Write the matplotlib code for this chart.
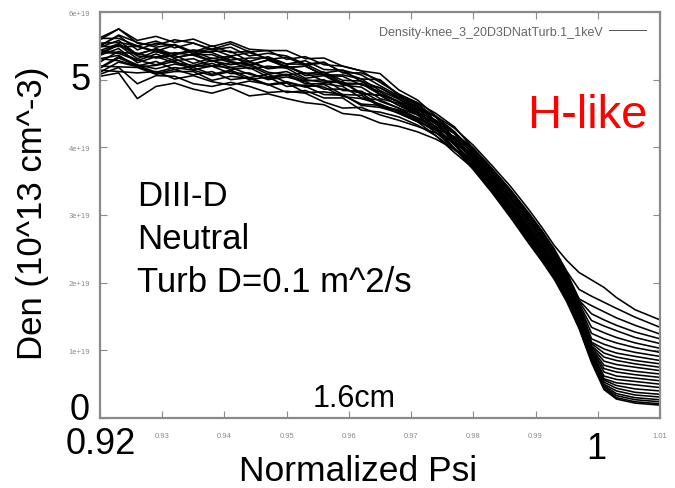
import matplotlib
matplotlib.use('Agg')
import matplotlib.pyplot as plt

plt.rcParams['font.family'] = ['Liberation Sans', 'DejaVu Sans']

# normalized psi grid: coarse part inside the pedestal, finer part across the separatrix
psi_core = [0.920, 0.923, 0.926, 0.929, 0.932, 0.935, 0.938, 0.941, 0.944, 0.947,
            0.950, 0.953, 0.956, 0.959, 0.962, 0.965, 0.968, 0.971, 0.974, 0.977,
            0.980, 0.983, 0.986]
psi_edge = [0.989, 0.991, 0.993, 0.995, 0.997, 0.999, 1.001, 1.003, 1.006, 1.010]

# density in units of 1e19 m^-3, one row per time slice
den_core = [
    [5.48, 5.58, 5.37, 5.46, 5.37, 5.42, 5.31, 5.35, 5.22, 5.29, 5.18, 5.20, 5.06, 5.05, 4.92, 4.88, 4.72, 4.55, 4.46, 4.28, 4.03, 3.73, 3.42],
    [5.26, 5.42, 5.29, 5.22, 5.31, 5.19, 5.24, 5.15, 5.18, 5.04, 5.08, 4.98, 5.00, 4.84, 4.83, 4.68, 4.58, 4.48, 4.37, 4.20, 3.99, 3.69, 3.37],
    [5.62, 5.75, 5.54, 5.51, 5.59, 5.54, 5.45, 5.53, 5.41, 5.43, 5.30, 5.34, 5.22, 5.20, 5.13, 4.96, 4.79, 4.66, 4.50, 4.30, 3.98, 3.68, 3.36],
    [5.20, 5.19, 5.18, 5.08, 5.12, 5.12, 4.99, 5.05, 5.02, 4.92, 4.95, 4.81, 4.82, 4.78, 4.62, 4.59, 4.51, 4.38, 4.27, 4.16, 3.97, 3.67, 3.35],
    [5.38, 5.51, 5.31, 5.42, 5.32, 5.38, 5.28, 5.22, 5.27, 5.17, 5.21, 5.06, 5.08, 4.93, 4.94, 4.82, 4.67, 4.52, 4.40, 4.22, 3.95, 3.65, 3.33],
    [5.54, 5.55, 5.50, 5.42, 5.51, 5.38, 5.42, 5.42, 5.27, 5.34, 5.23, 5.23, 5.10, 5.14, 4.97, 4.88, 4.74, 4.60, 4.45, 4.23, 3.93, 3.63, 3.30],
    [5.31, 5.28, 5.20, 5.27, 5.15, 5.20, 5.20, 5.09, 5.10, 5.00, 5.04, 4.97, 4.86, 4.86, 4.80, 4.62, 4.55, 4.44, 4.31, 4.14, 3.92, 3.61, 3.28],
    [5.08, 5.18, 4.94, 5.06, 5.05, 4.94, 4.90, 4.96, 4.90, 4.81, 4.83, 4.80, 4.67, 4.58, 4.59, 4.48, 4.40, 4.31, 4.21, 4.07, 3.90, 3.59, 3.26],
    [5.50, 5.66, 5.55, 5.48, 5.52, 5.41, 5.50, 5.40, 5.42, 5.30, 5.33, 5.21, 5.25, 5.11, 5.01, 5.00, 4.77, 4.64, 4.44, 4.20, 3.89, 3.57, 3.24],
    [5.40, 5.39, 5.28, 5.38, 5.28, 5.31, 5.20, 5.25, 5.23, 5.11, 5.07, 5.10, 4.98, 4.97, 4.80, 4.77, 4.62, 4.51, 4.34, 4.13, 3.87, 3.55, 3.22],
    [5.17, 5.32, 5.21, 5.11, 5.18, 5.14, 5.06, 5.12, 5.00, 5.04, 4.90, 4.92, 4.89, 4.75, 4.72, 4.64, 4.53, 4.39, 4.25, 4.07, 3.85, 3.53, 3.19],
    [5.49, 5.49, 5.49, 5.41, 5.38, 5.44, 5.40, 5.29, 5.32, 5.32, 5.18, 5.20, 5.07, 5.07, 5.01, 4.84, 4.71, 4.59, 4.39, 4.13, 3.84, 3.51, 3.17],
    [5.05, 5.10, 4.72, 4.90, 4.95, 4.86, 4.80, 4.88, 4.76, 4.79, 4.72, 4.66, 4.63, 4.50, 4.47, 4.36, 4.31, 4.23, 4.12, 3.97, 3.82, 3.50, 3.15],
    [5.39, 5.53, 5.38, 5.45, 5.33, 5.37, 5.37, 5.27, 5.21, 5.29, 5.20, 5.09, 5.11, 4.99, 4.98, 4.79, 4.68, 4.57, 4.35, 4.10, 3.81, 3.48, 3.14],
    [5.31, 5.36, 5.19, 5.21, 5.27, 5.15, 5.20, 5.18, 5.08, 5.02, 5.07, 4.94, 4.94, 4.90, 4.73, 4.70, 4.58, 4.43, 4.27, 4.04, 3.79, 3.47, 3.12],
    [5.59, 5.75, 5.58, 5.64, 5.55, 5.60, 5.49, 5.56, 5.45, 5.43, 5.43, 5.31, 5.32, 5.20, 5.13, 5.09, 4.85, 4.70, 4.46, 4.12, 3.79, 3.45, 3.10],
    [5.14, 5.12, 5.10, 5.12, 5.01, 5.06, 4.97, 4.92, 4.98, 4.93, 4.81, 4.84, 4.73, 4.73, 4.55, 4.52, 4.45, 4.33, 4.17, 3.96, 3.77, 3.43, 3.08],
    [5.43, 5.40, 5.39, 5.32, 5.36, 5.24, 5.32, 5.26, 5.16, 5.20, 5.17, 5.02, 5.06, 4.92, 4.89, 4.72, 4.65, 4.50, 4.30, 4.03, 3.75, 3.42, 3.06],
    [5.50, 5.65, 5.44, 5.54, 5.51, 5.41, 5.45, 5.35, 5.40, 5.31, 5.23, 5.28, 5.15, 5.14, 5.07, 4.91, 4.76, 4.62, 4.37, 4.07, 3.74, 3.40, 3.05],
    [5.18, 5.34, 5.22, 5.16, 5.23, 5.18, 5.08, 5.14, 5.03, 5.08, 4.96, 4.89, 4.93, 4.78, 4.77, 4.60, 4.55, 4.41, 4.22, 3.97, 3.72, 3.39, 3.03],
    [5.36, 5.46, 5.25, 5.34, 5.25, 5.21, 5.28, 5.18, 5.21, 5.08, 5.12, 5.00, 4.96, 4.96, 4.79, 4.77, 4.62, 4.48, 4.26, 3.98, 3.71, 3.37, 3.01],
    [5.61, 5.61, 5.50, 5.57, 5.47, 5.54, 5.44, 5.48, 5.35, 5.39, 5.35, 5.23, 5.26, 5.10, 5.10, 4.99, 4.78, 4.66, 4.38, 4.04, 3.70, 3.35, 2.99],
    [5.11, 5.26, 5.19, 5.09, 5.15, 5.07, 5.12, 5.00, 5.03, 4.93, 4.97, 4.90, 4.78, 4.77, 4.64, 4.62, 4.50, 4.38, 4.17, 3.92, 3.69, 3.35, 2.98],
    [5.43, 5.53, 5.35, 5.33, 5.40, 5.36, 5.27, 5.33, 5.26, 5.16, 5.19, 5.09, 5.11, 4.95, 4.94, 4.78, 4.67, 4.54, 4.29, 3.98, 3.67, 3.33, 2.96],
]

den_edge = [
    [3.07, 2.82, 2.55, 2.33, 2.15, 2.04, 1.93, 1.78, 1.60, 1.45],
    [3.02, 2.77, 2.50, 2.17, 1.90, 1.80, 1.71, 1.62, 1.49, 1.34],
    [3.00, 2.76, 2.48, 2.15, 1.76, 1.66, 1.57, 1.48, 1.37, 1.24],
    [2.99, 2.75, 2.47, 2.14, 1.74, 1.54, 1.45, 1.37, 1.27, 1.17],
    [2.96, 2.72, 2.44, 2.12, 1.72, 1.44, 1.36, 1.29, 1.19, 1.10],
    [2.94, 2.69, 2.42, 2.09, 1.69, 1.34, 1.26, 1.19, 1.11, 1.03],
    [2.92, 2.67, 2.40, 2.07, 1.67, 1.25, 1.17, 1.11, 1.04, 0.97],
    [2.90, 2.65, 2.38, 2.05, 1.65, 1.17, 1.09, 1.03, 0.97, 0.91],
    [2.87, 2.62, 2.35, 2.02, 1.62, 1.12, 1.02, 0.96, 0.91, 0.85],
    [2.85, 2.60, 2.33, 2.00, 1.60, 1.10, 0.96, 0.90, 0.85, 0.80],
    [2.82, 2.57, 2.30, 1.97, 1.57, 1.07, 0.90, 0.85, 0.80, 0.75],
    [2.80, 2.55, 2.28, 1.95, 1.55, 1.05, 0.84, 0.79, 0.75, 0.70],
    [2.78, 2.53, 2.26, 1.93, 1.53, 1.03, 0.78, 0.73, 0.69, 0.65],
    [2.76, 2.51, 2.24, 1.91, 1.51, 1.01, 0.73, 0.68, 0.64, 0.60],
    [2.74, 2.49, 2.22, 1.89, 1.49, 0.99, 0.68, 0.62, 0.59, 0.55],
    [2.72, 2.47, 2.20, 1.87, 1.47, 0.97, 0.62, 0.57, 0.54, 0.50],
    [2.70, 2.45, 2.18, 1.85, 1.45, 0.95, 0.58, 0.52, 0.49, 0.45],
    [2.68, 2.43, 2.16, 1.83, 1.43, 0.93, 0.56, 0.48, 0.43, 0.40],
    [2.66, 2.41, 2.14, 1.81, 1.41, 0.91, 0.53, 0.44, 0.38, 0.35],
    [2.64, 2.39, 2.12, 1.79, 1.39, 0.89, 0.50, 0.40, 0.34, 0.31],
    [2.62, 2.37, 2.10, 1.77, 1.37, 0.87, 0.48, 0.36, 0.30, 0.27],
    [2.60, 2.35, 2.08, 1.75, 1.35, 0.85, 0.46, 0.33, 0.27, 0.24],
    [2.59, 2.34, 2.07, 1.74, 1.34, 0.84, 0.44, 0.30, 0.24, 0.21],
    [2.57, 2.32, 2.05, 1.72, 1.32, 0.82, 0.42, 0.28, 0.22, 0.19],
]

xticks = [0.92, 0.93, 0.94, 0.95, 0.96, 0.97, 0.98, 0.99, 1.00, 1.01]
xtick_labels = ['', '0.93', '0.94', '0.95', '0.96', '0.97', '0.98', '0.99', '', '1.01']
yticks = [0, 1, 2, 3, 4, 5, 6]
ytick_labels = ['', '1e+19', '2e+19', '3e+19', '4e+19', '', '6e+19']

legend_label = 'Density-knee_3_20D3DNatTurb.1_1keV'

W, H = 675, 489


def fxy(px, py):
    # pixel position in the 675x489 canvas -> figure fraction
    return px / W, 1 - py / H


fig = plt.figure(figsize=(W / 100, H / 100), dpi=100)
ax = fig.add_axes([100 / W, 1 - 419 / H, 560 / W, 406 / H])

psi = psi_core + psi_edge
lines = []
for core, edge in zip(den_core, den_edge):
    ln, = ax.plot(psi, core + edge, color='black', lw=1.15)
    lines.append(ln)

ax.set_xlim(0.92, 1.01)
ax.set_ylim(0, 6)

frame_grey = '#8a8a8a'
for sp in ax.spines.values():
    sp.set_color(frame_grey)
    sp.set_linewidth(1.6)

ax.set_xticks(xticks)
ax.set_xticklabels(xtick_labels)
ax.set_yticks(yticks)
ax.set_yticklabels(ytick_labels)
ax.tick_params(direction='in', length=5, width=0.8, color=frame_grey,
               labelsize=5.5, labelcolor='#8a8a8a', top=True, right=True)
ax.tick_params(axis='x', pad=10)
ax.tick_params(axis='y', pad=7)

leg = ax.legend([lines[0]], [legend_label], loc='upper right', frameon=False,
                markerfirst=False, fontsize=9, handlelength=3.0,
                borderaxespad=0.7, handletextpad=0.5)
for t in leg.get_texts():
    t.set_color('#666666')
leg.legend_handles[0].set_color('#555555')
leg.legend_handles[0].set_linewidth(0.7)

# large overlaid labels
big = 26
fig.text(*fxy(81, 90), '5', fontsize=big, ha='center', va='baseline')
fig.text(*fxy(80, 420), '0', fontsize=big, ha='center', va='baseline')
fig.text(*fxy(101, 454), '0.92', fontsize=big, ha='center', va='baseline')
fig.text(*fxy(596, 459), '1', fontsize=big, ha='center', va='baseline')

fig.text(*fxy(33, 213), 'Den (10^13 cm^-3)', fontsize=25, rotation=90,
         ha='center', va='center')
fig.text(*fxy(358, 481), 'Normalized Psi', fontsize=25.5, ha='center', va='baseline')

fig.text(*fxy(527, 128), 'H-like', fontsize=34, color='#ff0000', va='baseline')
fig.text(*fxy(137, 206), 'DIII-D', fontsize=25, va='baseline')
fig.text(*fxy(137, 249), 'Neutral', fontsize=25, va='baseline')
fig.text(*fxy(137, 292), 'Turb D=0.1 m^2/s', fontsize=25, va='baseline')
fig.text(*fxy(313, 407), '1.6cm', fontsize=22, va='baseline')

fig.savefig('out.png', dpi=100, facecolor='white')
